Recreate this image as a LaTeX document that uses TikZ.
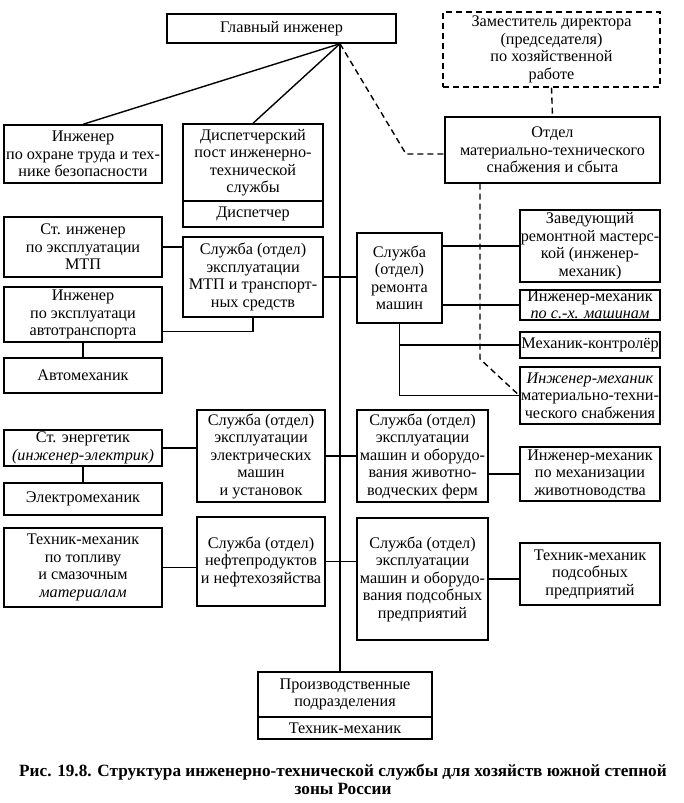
\documentclass[tikz,border=0pt]{standalone}
\usepackage{fontspec}
\setmainfont{Liberation Serif}
\usetikzlibrary{calc}

\newcommand{\orgfont}{\fontsize{16.2}{17.5}\selectfont}
\tikzset{
  orgbox/.style={draw, line width=1.4pt, align=center, inner sep=0pt, font=\orgfont},
  link/.style={line width=1.4pt},
  dashlink/.style={line width=1.4pt, dash pattern=on 6pt off 4pt},
}

\begin{document}
\begin{tikzpicture}[x=1pt, y=-1pt]

    \path[fill=white] (0,0) rectangle (683,803);

    % Top row: chief engineer and deputy director
    \node[orgbox, minimum width=229pt, minimum height=29pt] (chief) at (281.5,28.5) {Главный инженер};
    \node[orgbox, dashlink, minimum width=217pt, minimum height=75pt] (deputy) at (551.5,49.5) {Заместитель директора\\(председателя)\\по хозяйственной\\работе};

    % Second row
    \node[orgbox, minimum width=158pt, minimum height=58pt] (safety) at (83,154) {Инженер\\по охране труда и тех-\\нике безопасности};
    \node[orgbox, minimum width=140pt, minimum height=77pt] (dpost) at (253,162.5) {Диспетчерский\\пост инженерно-\\технической\\службы};
    \node[orgbox, minimum width=140pt, minimum height=26pt] (dispatcher) at (253,214) {Диспетчер};
    \node[orgbox, minimum width=215pt, minimum height=66pt] (supply) at (552.5,150) {Отдел\\материально-технического\\снабжения и сбыта};

    % Left column
    \node[orgbox, minimum width=158pt, minimum height=60pt] (srEng) at (83,247) {Ст. инженер\\по эксплуатации\\МТП};
    \node[orgbox, minimum width=158pt, minimum height=55pt] (autoEng) at (83,314.5) {Инженер\\по эксплуатаци\\автотранспорта};
    \node[orgbox, minimum width=158pt, minimum height=35pt] (autoMech) at (83,375.5) {Автомеханик};
    \node[orgbox, minimum width=158pt, minimum height=36pt] (srEnerg) at (83,448) {Ст. энергетик\\\textit{(инженер-электрик)}};
    \node[orgbox, minimum width=158pt, minimum height=32pt] (electromech) at (83,499) {Электромеханик};
    \node[orgbox, minimum width=158pt, minimum height=79pt] (fuelTech) at (83,567.5) {Техник-механик\\по топливу\\и смазочным\\\textit{материалам}};

    % Services left of the main line
    \node[orgbox, minimum width=140pt, minimum height=80pt] (mtpService) at (253,277) {Служба (отдел)\\эксплуатации\\МТП и транспорт-\\ных средств};
    \node[orgbox, minimum width=128pt, minimum height=92pt] (elecService) at (261,456) {Служба (отдел)\\эксплуатации\\электрических\\машин\\и установок};
    \node[orgbox, minimum width=128pt, minimum height=89pt] (oilService) at (261,561.5) {Служба (отдел)\\нефтепродуктов\\и нефтехозяйства};

    % Services right of the main line
    \node[orgbox, minimum width=85pt, minimum height=90pt] (repair) at (399.5,278) {Служба\\(отдел)\\ремонта\\машин};
    \node[orgbox, minimum width=131pt, minimum height=92pt] (farmService) at (422.5,456) {Служба (отдел)\\эксплуатации\\машин и оборудо-\\вания животно-\\водческих ферм};
    \node[orgbox, minimum width=131pt, minimum height=122pt] (auxService) at (422.5,579) {Служба (отдел)\\эксплуатации\\машин и оборудо-\\вания подсобных\\предприятий};

    % Right column
    \node[orgbox, minimum width=140pt, minimum height=72pt] (workshop) at (590,246) {Заведующий\\ремонтной мастерс-\\кой (инженер-\\механик)};
    \node[orgbox, minimum width=140pt, minimum height=30pt] (agriMech) at (590,305) {Инженер-механик\\\textit{по с.-х. машинам}};
    \node[orgbox, minimum width=140pt, minimum height=26pt] (controller) at (590,345) {Механик-контролёр};
    \node[orgbox, minimum width=140pt, minimum height=57pt] (supplyMech) at (590,395.5) {\textit{Инженер-механик}\\материально-техни-\\ческого снабжения};
    \node[orgbox, minimum width=140pt, minimum height=54pt] (farmMech) at (590,474) {Инженер-механик\\по механизации\\животноводства};
    \node[orgbox, minimum width=140pt, minimum height=62pt] (auxTech) at (590,574) {Техник-механик\\подсобных\\предприятий};

    % Bottom: production units
    \node[orgbox, minimum width=174pt, minimum height=45pt] (prod) at (345,694.5) {Производственные\\подразделения};
    \node[orgbox, minimum width=174pt, minimum height=22pt] (prodSub) at (345,728) {Техник-механик};

    % Caption
    \node[align=center, inner sep=0pt, font=\fontsize{17.2}{18}\selectfont\bfseries] (caption) at (343,779.5) {Рис. 19.8. Структура инженерно-технической службы для хозяйств южной степной\\зоны России};

    % Helper points for the lines
    \coordinate (apex) at ([xshift=58.5pt]chief.south);
    \coordinate (bend) at (406,154);
    \coordinate (supplyDrop) at ([xshift=-72.5pt]supply.south);
    \coordinate (supplyKnee) at (480,359);

    % Lines from the chief engineer
    \draw[link] (apex) -- (safety.north);
    \draw[link] (apex) -- (dpost.north);
    \draw[link] (apex) -- (apex |- prod.north);
    \draw[dashlink] (apex) -- (bend) -- (bend -| supply.west);

    % Dashed lines of the supply department
    \draw[dashlink] (deputy.south) -- (supply.north);
    \draw[dashlink] (supplyDrop) -- (supplyKnee) -- (supplyMech.west);

    % Links on the left side
    \draw[link] (srEng.east) -- (srEng.east -| mtpService.west);
    \draw[link] (mtpService.south) |- ([yshift=-17pt]autoEng.east);
    \draw[link] (autoEng.south) -- (autoMech.north);
    \draw[link] (mtpService.east) -- (mtpService.east -| repair.west);
    \draw[link] (srEnerg.east) -- (srEnerg.east -| elecService.west);
    \draw[link] (srEnerg.south) -- (electromech.north);
    \draw[link] (elecService.east) -- (farmService.west);
    \draw[link] (fuelTech.east) -- (fuelTech.east -| oilService.west);
    \draw[link] (oilService.east) -- (oilService.east -| auxService.west);

    % Links on the right side
    \draw[link] (workshop.west) -- (workshop.west -| repair.east);
    \draw[link] (agriMech.west) -- (agriMech.west -| repair.east);
    \draw[link] (repair.south) |- (supplyMech.west);
    \draw[link] (repair.south |- controller.west) -- (controller.west);
    \draw[link] (farmMech.west) -- (farmMech.west -| farmService.east);
    \draw[link] (auxService.east) -- (auxService.east -| auxTech.west);

\end{tikzpicture}
\end{document}
